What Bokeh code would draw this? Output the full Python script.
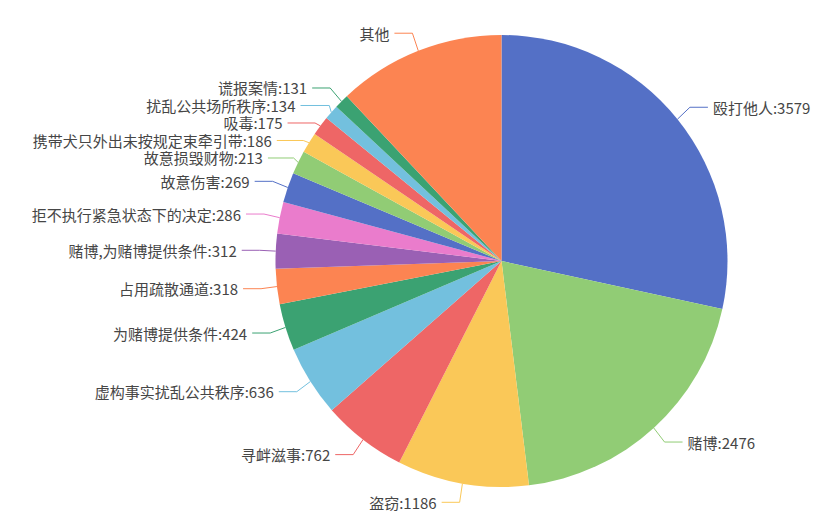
import math
from bokeh.plotting import figure
from bokeh.models import Range1d, ColumnDataSource
from bokeh.core.properties import value
from bokeh.embed import file_html
from bokeh.resources import INLINE

# ---- data ----
categories = ["殴打他人", "赌博", "盗窃", "寻衅滋事", "虚构事实扰乱公共秩序",
              "为赌博提供条件", "占用疏散通道", "赌博,为赌博提供条件",
              "拒不执行紧急状态下的决定", "故意伤害", "故意损毁财物",
              "携带犬只外出未按规定束牵引带", "吸毒", "扰乱公共场所秩序",
              "谎报案情", "其他"]
counts = [3579, 2476, 1186, 762, 636, 424, 318, 312, 286, 269, 213, 186, 175,
          134, 131, 1512]
show_value = [True] * 15 + [False]
palette = ["#5470c6", "#91cc75", "#fac858", "#ee6666", "#73c0de",
           "#3ba272", "#fc8452", "#9a60b4", "#ea7ccc"]

# ---- layout (page pixel space, y down) ----
W, H = 838, 519
CX, CY, R = 501.0, 260.5, 226.0
RA, RB = R + 16.0, R + 19.0          # label-line elbow ellipse
LEN2, GAP, LINE_H = 18.0, 5.0, 17.5
FONT = value("Noto Sans CJK SC")
TEXT_COLOR = "#464646"


def Y(py):
    return H - py


p = figure(width=W, height=H, output_backend="svg", toolbar_location=None,
           x_range=Range1d(0, W), y_range=Range1d(0, H),
           x_axis_location=None, y_axis_location=None, min_border=0)
p.outline_line_color = None
p.grid.visible = False
p.background_fill_color = "white"
p.border_fill_color = "white"

total = float(sum(counts))
colors = [palette[i % len(palette)] for i in range(len(counts))]

starts, ends, mids = [], [], []
cum = 0.0
for v in counts:
    a0 = cum / total * 2 * math.pi
    cum += v
    a1 = cum / total * 2 * math.pi
    starts.append(math.pi / 2 - a0)
    ends.append(math.pi / 2 - a1)
    mids.append((a0 + a1) / 2)

src = ColumnDataSource(dict(start=starts, end=ends, color=colors,
                            x=[CX] * len(counts), y=[Y(CY)] * len(counts)))
p.wedge(x="x", y="y", radius=R, start_angle="start", end_angle="end",
        direction="clock", fill_color="color", line_color=None, source=src)

# ---- labels ----
items = []
for i, m in enumerate(mids):
    sx, sy = math.sin(m), -math.cos(m)
    edge = (CX + R * sx, CY + R * sy)
    el0 = (CX + RA * sx, CY + RB * sy)
    side = 1 if sx >= 0 else -1
    items.append(dict(i=i, edge=edge, el0=el0, side=side, y=el0[1]))

for side in (1, -1):
    lst = sorted([it for it in items if it["side"] == side], key=lambda d: d["y"])
    for k in range(1, len(lst)):
        if lst[k]["y"] < lst[k - 1]["y"] + LINE_H:
            lst[k]["y"] = lst[k - 1]["y"] + LINE_H

line_xs, line_ys, line_colors = [], [], []
lx, ly, lt, rx, ry, rt = [], [], [], [], [], []
for it in items:
    i, side = it["i"], it["side"]
    y = it["y"]
    if abs(y - it["el0"][1]) > 1e-6:
        dy = y - CY
        # text anchor on the elbow ellipse, elbow pulled in towards the pie
        dxe = math.sqrt(max(1 - (dy / RB) ** 2, 0.0)) * RA
        end_x = CX + side * (dxe + LEN2 - 4)
        dxi = math.sqrt(max((R + 6) ** 2 - dy * dy, 0.0))
        ex = CX + side * dxi
        if side * (ex - it["edge"][0]) < 2:
            ex = it["edge"][0] + side * 2
        elbow = (ex, y)
    else:
        elbow = it["el0"]
        end_x = elbow[0] + side * LEN2
    line_xs.append([it["edge"][0], elbow[0], end_x])
    line_ys.append([Y(it["edge"][1]), Y(elbow[1]), Y(y)])
    line_colors.append(colors[i])
    label = categories[i] + (":" + str(counts[i]) if show_value[i] else "")
    if side > 0:
        rx.append(end_x + GAP); ry.append(Y(y)); rt.append(label)
    else:
        lx.append(end_x - GAP); ly.append(Y(y)); lt.append(label)

p.multi_line(xs=line_xs, ys=line_ys, line_color=line_colors, line_width=1)
p.text(x=lx, y=ly, text=lt, text_align="right", text_baseline="middle",
       text_font=FONT, text_font_size="15px", text_color=TEXT_COLOR)
p.text(x=rx, y=ry, text=rt, text_align="left", text_baseline="middle",
       text_font=FONT, text_font_size="15px", text_color=TEXT_COLOR)

open("out.html", "w").write(file_html(p, INLINE))
